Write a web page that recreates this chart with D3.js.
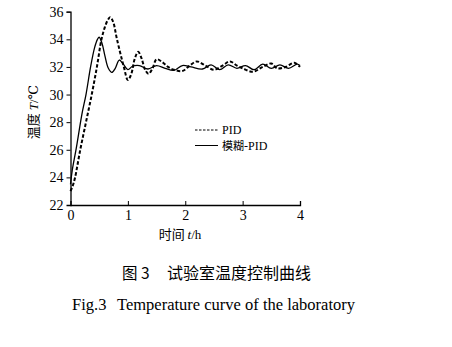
<!DOCTYPE html>
<html><head><meta charset="utf-8">
<script src="https://cdn.jsdelivr.net/npm/d3@7"></script>
<style>body{margin:0;background:#fff}</style>
</head><body>
<svg id="c" width="452" height="347"></svg>
<script>
const xTicks = [0,1,2,3,4];
const yTicks = [22,24,26,28,30,32,34,36];
const seriesNames = ["PID","模糊-PID"];
const pidT = [0,0.04,0.08,0.17,0.27,0.37,0.46,0.54,0.6,0.65,0.69,0.74,0.81,0.93,1.0,1.06,1.12,1.18,1.24,1.3,1.36,1.43,1.5,1.6,1.7,1.8,1.95,2.08,2.2,2.35,2.5,2.65,2.78,2.9,3.0,3.18,3.35,3.5,3.6,3.75,3.9,4.0];
const pidV = [23.0,23.4,24.0,26.0,28.0,30.0,32.0,34.0,34.9,35.4,35.6,35.3,34.0,32.0,31.05,31.5,32.6,33.1,32.6,31.8,31.5,31.9,32.55,32.35,32.0,31.8,31.7,32.1,32.4,32.1,31.8,32.1,32.4,32.1,31.9,31.65,32.0,32.25,31.9,32.0,32.3,32.0];
const fuzT = [0,0.03,0.1,0.2,0.27,0.35,0.42,0.47,0.5,0.55,0.6,0.66,0.72,0.78,0.85,0.92,1.0,1.08,1.2,1.35,1.5,1.65,1.8,1.95,2.1,2.3,2.45,2.6,2.75,2.9,3.05,3.2,3.35,3.5,3.65,3.8,3.95,4.0];
const fuzV = [23.5,24.5,26.1,28.6,30.0,32.0,33.4,34.0,34.15,33.7,32.8,31.9,31.6,31.9,32.5,32.2,31.8,32.05,32.1,31.85,32.1,31.9,31.75,32.1,32.0,31.85,32.15,31.8,32.15,31.9,32.1,31.8,32.2,31.9,32.15,31.9,32.2,32.1];

const svg = d3.select("#c");
const x = d3.scaleLinear().domain([0,4]).range([70.5,300]);
const y = d3.scaleLinear().domain([22,36]).range([205,11.7]);
const serif = "'Liberation Serif','DejaVu Serif',serif";
const cjk = "'Noto Sans CJK SC','Liberation Serif',serif";

// axes
const xa = svg.append("g").attr("transform",`translate(0,${y(22)})`)
  .call(d3.axisBottom(x).tickValues(xTicks).tickSize(-4).tickPadding(5).tickFormat(d3.format("d")));
const ya = svg.append("g").attr("transform",`translate(${x(0)},0)`)
  .call(d3.axisLeft(y).tickValues(yTicks).tickSize(4).tickPadding(3).tickFormat(d3.format("d")));
[xa,ya].forEach(g=>{
  g.attr("font-family",serif).attr("font-size",14);
  g.select(".domain").attr("stroke","#000").attr("stroke-width",1.3);
  g.selectAll(".tick line").attr("stroke","#000").attr("stroke-width",1);
  g.selectAll(".tick text").style("font-family",serif).style("font-size","14px").attr("fill","#000");
});
xa.selectAll(".tick").filter(d=>d===0).select("line").remove();
ya.selectAll(".tick").filter(d=>d===22).select("line").remove();

const line = d3.line().x(d=>x(d[0])).y(d=>y(d[1])).curve(d3.curveCatmullRom.alpha(0.5));
svg.append("path").datum(fuzT.map((t,i)=>[t,fuzV[i]])).attr("d",line)
  .attr("fill","none").attr("stroke","#000").attr("stroke-width",1.3);
svg.append("path").datum(pidT.map((t,i)=>[t,pidV[i]])).attr("d",line)
  .attr("fill","none").attr("stroke","#000").attr("stroke-width",2).attr("stroke-dasharray","3.5,2");

// legend
const lg = svg.append("g");
[0,1].forEach(i=>{
  const yy = 130 + i*15.5;
  lg.append("line").attr("x1",195).attr("x2",218).attr("y1",yy).attr("y2",yy)
    .attr("stroke","#000").attr("stroke-width",1).attr("stroke-dasharray",i===0?"2.5,1.5":null);
  const t = lg.append("text").attr("x",222).attr("y",yy+4).attr("font-size",11);
  if(i===0){ t.style("font-family",serif).attr("font-size",12).text(seriesNames[0]); }
  else {
    const parts = seriesNames[1].split("-");
    t.append("tspan").style("font-family",cjk).text(parts[0]);
    t.append("tspan").style("font-family",serif).attr("font-size",12).text("-"+parts[1]);
  }
});

// axis labels
const yl = svg.append("text").attr("transform","translate(38,112) rotate(-90)")
  .attr("text-anchor","middle").attr("font-size",13);
yl.append("tspan").style("font-family",cjk).text("温度 ");
yl.append("tspan").style("font-family",serif).attr("font-style","italic").text("T");
yl.append("tspan").style("font-family",serif).text("/℃");

const xl = svg.append("text").attr("x",180).attr("y",239).attr("text-anchor","middle")
  .attr("font-size",13);
xl.append("tspan").style("font-family",cjk).text("时间 ");
xl.append("tspan").style("font-family",serif).attr("font-style","italic").text(" t");
xl.append("tspan").style("font-family",serif).text("/h");

// captions
svg.append("text").attr("x",122).attr("y",279).attr("font-size",15.5).style("font-family",cjk).text("图 3");
svg.append("text").attr("x",167).attr("y",279).attr("font-size",16).style("font-family",cjk).text("试验室温度控制曲线");
svg.append("text").attr("x",72).attr("y",310).attr("font-size",16.5).style("font-family",serif).text("Fig.3");
svg.append("text").attr("x",117).attr("y",310).attr("font-size",16.5).style("font-family",serif).text("Temperature curve of the laboratory");
</script>
</body></html>
